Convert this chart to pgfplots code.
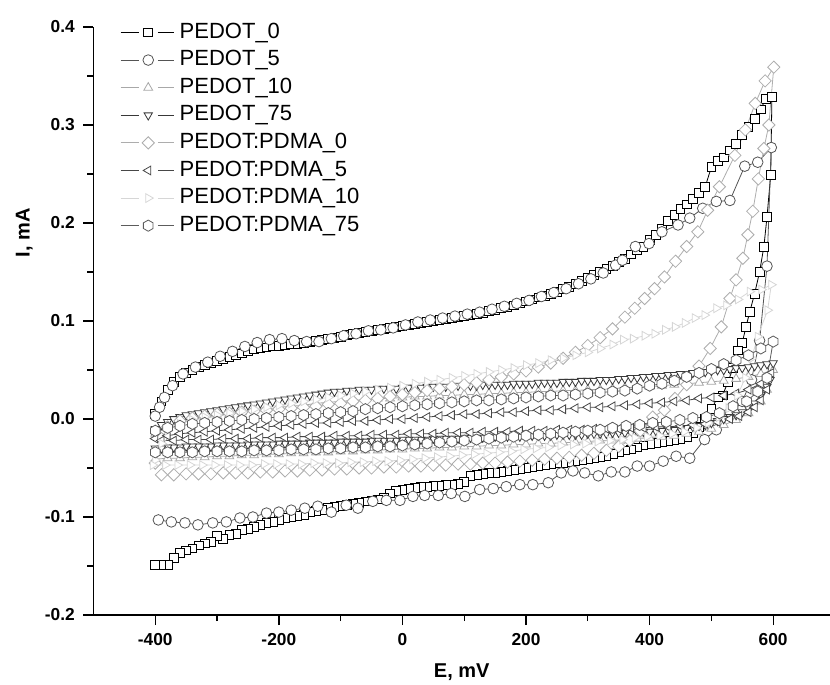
\documentclass[border=0pt]{standalone}
\usepackage{pgfplots}
\pgfplotsset{compat=1.18}
\usepackage{fontspec}
\setmainfont{Liberation Sans}
\definecolor{cA}{gray}{0.0}
\definecolor{cB}{gray}{0.33}
\definecolor{cC}{gray}{0.66}
\definecolor{cD}{gray}{0.22}
\definecolor{cE}{gray}{0.68}
\definecolor{cF}{gray}{0.28}
\definecolor{cG}{gray}{0.84}
\definecolor{cH}{gray}{0.36}
\pgfdeclareplotmark{hexagon*}{%
  \pgfpathmoveto{\pgfqpointpolar{90}{\pgfplotmarksize}}%
  \pgfpathlineto{\pgfqpointpolar{150}{\pgfplotmarksize}}%
  \pgfpathlineto{\pgfqpointpolar{210}{\pgfplotmarksize}}%
  \pgfpathlineto{\pgfqpointpolar{270}{\pgfplotmarksize}}%
  \pgfpathlineto{\pgfqpointpolar{330}{\pgfplotmarksize}}%
  \pgfpathlineto{\pgfqpointpolar{30}{\pgfplotmarksize}}%
  \pgfpathclose
  \pgfusepathqfillstroke}
\pgfdeclareplotmark{rdiamond*}{%
  \pgfpathmoveto{\pgfqpoint{0pt}{\pgfplotmarksize}}%
  \pgfpathlineto{\pgfqpoint{\pgfplotmarksize}{0pt}}%
  \pgfpathlineto{\pgfqpoint{0pt}{-\pgfplotmarksize}}%
  \pgfpathlineto{\pgfqpoint{-\pgfplotmarksize}{0pt}}%
  \pgfpathclose
  \pgfusepathqfillstroke}
\begin{document}
\begin{tikzpicture}
\begin{axis}[
  at={(0,0)}, anchor=south west,
  scale only axis, width=552.4pt, height=441pt,
  xmin=-500, xmax=692, ymin=-0.2, ymax=0.4,
  axis x line*=bottom, axis y line*=left,
  axis line style={-, line width=1pt},
  tick align=outside,
  major tick length=7.5pt, minor tick length=4.5pt,
  every tick/.style={black, line width=1pt},
  xtick={-400,-200,0,200,400,600},
  xticklabels={-400,-200,0,200,400,600},
  minor xtick={-300,-100,100,300,500},
  ytick={-0.2,-0.1,0,0.1,0.2,0.3,0.4},
  yticklabels={-0.2,-0.1,0.0,0.1,0.2,0.3,0.4},
  minor ytick={-0.15,-0.05,0.05,0.15,0.25,0.35},
  tick label style={font=\bfseries\fontsize{13}{13}\selectfont},
  xticklabel style={yshift=-3pt},
  yticklabel style={xshift=-3pt},
  xlabel={E, mV}, ylabel={I, mA},
  every axis x label/.style={at={(rel axis cs:0.5,-0.097)}, anchor=center, font=\bfseries\fontsize{15}{15}\selectfont},
  every axis y label/.style={at={(rel axis cs:-0.094,0.65)}, rotate=90, anchor=center, font=\bfseries\fontsize{15}{15}\selectfont},
  legend cell align=left,
  legend style={draw=none, fill=none, at={(0.036,1.011)}, anchor=north west, inner sep=0pt,
    font=\fontsize{16.5}{16.5}\selectfont, row sep=3.2pt,
    nodes={inner sep=1pt, text height=12pt, text depth=3.5pt},
    /tikz/every odd column/.append style={column sep=3pt}},
  legend image code/.code={%
    \draw[mark=none] (0pt,0pt) -- (13.5pt,0pt) (28pt,0pt) -- (40pt,0pt);
    \draw[only marks] plot coordinates {(20.7pt,0pt)};},
  every axis plot/.append style={line width=0.6pt},
]
% PEDOT_0
\addplot[color=cA, mark=square*, mark size=3.3pt, mark options={fill=white, solid}] coordinates {
(-400,0.005)(-390,0.018)(-380,0.030)(-370,0.038)(-360,0.043)(-350,0.047)(-340,0.050)(-330,0.053)(-320,0.055)(-310,0.057)(-300,0.059)(-290,0.061)(-280,0.063)(-270,0.065)(-260,0.067)(-250,0.069)(-240,0.071)(-230,0.072)(-220,0.073)(-210,0.074)(-200,0.075)(-190,0.076)(-180,0.077)(-170,0.077)(-160,0.078)(-150,0.079)(-140,0.080)(-130,0.081)(-120,0.082)(-110,0.083)(-100,0.084)(-90,0.086)(-80,0.087)(-70,0.088)(-60,0.089)(-50,0.090)(-40,0.091)(-30,0.092)(-20,0.093)(-10,0.094)(0,0.095)(10,0.096)(20,0.097)(30,0.098)(40,0.099)(50,0.100)(60,0.101)(70,0.102)(80,0.103)(90,0.104)(100,0.105)(110,0.106)(120,0.107)(130,0.108)(140,0.110)(150,0.111)(160,0.113)(170,0.114)(180,0.116)(190,0.118)(200,0.120)(210,0.122)(220,0.124)(230,0.126)(240,0.128)(250,0.130)(260,0.133)(270,0.135)(280,0.138)(290,0.141)(300,0.144)(310,0.147)(320,0.150)(330,0.153)(340,0.156)(350,0.160)(360,0.163)(370,0.168)(380,0.172)(390,0.176)(400,0.183)(410,0.188)(420,0.194)(430,0.202)(440,0.208)(450,0.214)(460,0.219)(470,0.225)(480,0.231)(490,0.237)(500,0.257)(510,0.263)(520,0.267)(530,0.274)(540,0.281)(550,0.290)(560,0.298)(570,0.306)(580,0.316)(588,0.327)(598,0.329)
(596,0.249)(590,0.206)(585,0.176)(578,0.150)(570,0.128)(562,0.109)(556,0.094)(550,0.078)(543,0.070)(535,0.052)(527,0.038)(518,0.024)(510,0.022)(500,0.010)(490,0.000)(480,-0.008)(470,-0.014)(460,-0.018)(450,-0.020)(440,-0.021)(430,-0.022)(420,-0.023)(410,-0.024)(400,-0.025)(390,-0.027)(380,-0.029)(370,-0.031)(360,-0.032)(350,-0.034)(340,-0.036)(330,-0.038)(320,-0.039)(310,-0.040)(300,-0.041)(290,-0.042)(280,-0.043)(270,-0.044)(260,-0.045)(250,-0.045)(240,-0.046)(230,-0.047)(220,-0.048)(210,-0.049)(200,-0.050)(190,-0.051)(180,-0.052)(170,-0.053)(160,-0.054)(150,-0.055)(140,-0.055)(130,-0.056)(120,-0.057)(110,-0.058)(100,-0.064)(90,-0.066)(80,-0.067)(70,-0.067)(60,-0.068)(50,-0.068)(40,-0.069)(30,-0.069)(20,-0.070)(10,-0.071)(0,-0.072)(-10,-0.073)(-20,-0.076)(-30,-0.080)(-40,-0.082)(-50,-0.083)(-60,-0.084)(-70,-0.086)(-80,-0.087)(-90,-0.088)(-100,-0.089)(-110,-0.090)(-120,-0.091)(-130,-0.093)(-140,-0.094)(-150,-0.095)(-160,-0.098)(-170,-0.099)(-180,-0.100)(-190,-0.101)(-200,-0.103)(-210,-0.105)(-220,-0.106)(-230,-0.108)(-240,-0.110)(-250,-0.112)(-260,-0.113)(-270,-0.117)(-280,-0.118)(-290,-0.122)(-300,-0.119)(-310,-0.125)(-320,-0.127)(-330,-0.129)(-340,-0.132)(-350,-0.134)(-360,-0.137)(-370,-0.142)(-380,-0.149)(-390,-0.149)(-400,-0.149)
};
\addlegendentry{PEDOT\_0}
% PEDOT_5
\addplot[color=cB, mark=*, mark size=4pt, mark options={fill=white, solid}] coordinates {
(-400,0.003)(-393,0.012)(-385,0.022)(-372,0.034)(-355,0.046)(-335,0.053)(-315,0.058)(-295,0.064)(-275,0.069)(-255,0.074)(-235,0.078)(-215,0.081)(-195,0.082)(-175,0.080)(-155,0.079)(-135,0.079)(-115,0.082)(-95,0.085)(-75,0.087)(-55,0.090)(-35,0.091)(-15,0.093)(5,0.096)(25,0.099)(45,0.101)(65,0.103)(85,0.105)(105,0.107)(125,0.109)(145,0.112)(165,0.115)(185,0.118)(205,0.121)(225,0.125)(245,0.129)(265,0.133)(285,0.138)(305,0.143)(325,0.149)(345,0.157)(356,0.162)(377,0.176)(399,0.179)(420,0.191)(446,0.198)(465,0.205)(486,0.215)(508,0.222)(530,0.223)(554,0.258)(575,0.262)(597,0.277)
(590,0.156)(578,0.080)(565,0.040)(550,0.018)(530,0.004)(508,-0.011)(489,-0.021)(465,-0.040)(443,-0.038)(422,-0.043)(400,-0.048)(380,-0.048)(360,-0.054)(338,-0.054)(317,-0.058)(295,-0.055)(276,-0.053)(257,-0.055)(236,-0.065)(211,-0.067)(190,-0.067)(168,-0.069)(147,-0.071)(125,-0.072)(101,-0.079)(79,-0.076)(58,-0.078)(36,-0.078)(17,-0.079)(-4,-0.083)(-26,-0.083)(-48,-0.084)(-72,-0.091)(-91,-0.088)(-115,-0.095)(-137,-0.089)(-158,-0.091)(-180,-0.093)(-200,-0.095)(-220,-0.096)(-242,-0.100)(-263,-0.101)(-285,-0.105)(-307,-0.106)(-331,-0.108)(-352,-0.106)(-374,-0.105)(-395,-0.103)
};
\addlegendentry{PEDOT\_5}
% PEDOT_10
\addplot[color=cC, mark=triangle*, mark size=3.8pt, mark options={fill=white, solid}] coordinates {
(-400,-0.015)(-380,-0.008)(-360,-0.004)(-340,-0.001)(-320,0.001)(-300,0.003)(-280,0.005)(-260,0.007)(-240,0.009)(-220,0.010)(-200,0.012)(-180,0.013)(-160,0.014)(-140,0.016)(-120,0.017)(-100,0.018)(-80,0.019)(-60,0.020)(-40,0.021)(-20,0.021)(0,0.022)(20,0.023)(40,0.023)(60,0.024)(80,0.024)(100,0.025)(120,0.025)(140,0.026)(160,0.026)(180,0.027)(200,0.027)(220,0.028)(240,0.028)(260,0.029)(280,0.029)(300,0.030)(320,0.030)(340,0.031)(360,0.032)(380,0.032)(400,0.033)(420,0.034)(440,0.035)(460,0.036)(480,0.037)(500,0.038)(520,0.039)(540,0.041)(560,0.043)(580,0.046)(600,0.050)
(590,0.030)(580,0.018)(560,0.006)(540,-0.001)(520,-0.006)(500,-0.010)(480,-0.013)(460,-0.015)(440,-0.017)(420,-0.018)(400,-0.019)(380,-0.020)(360,-0.021)(340,-0.022)(320,-0.022)(300,-0.023)(280,-0.024)(260,-0.024)(240,-0.025)(220,-0.025)(200,-0.026)(180,-0.026)(160,-0.027)(140,-0.027)(120,-0.028)(100,-0.028)(80,-0.029)(60,-0.029)(40,-0.030)(20,-0.030)(0,-0.031)(-20,-0.031)(-40,-0.032)(-60,-0.032)(-80,-0.033)(-100,-0.033)(-120,-0.034)(-140,-0.034)(-160,-0.035)(-180,-0.035)(-200,-0.036)(-220,-0.036)(-240,-0.037)(-260,-0.037)(-280,-0.038)(-300,-0.038)(-320,-0.039)(-340,-0.039)(-360,-0.040)(-380,-0.040)(-400,-0.041)
};
\addlegendentry{PEDOT\_10}
% PEDOT_75
\addplot[color=cD, mark=triangle*, mark size=3.6pt, mark options={fill=white, solid, rotate=180}] coordinates {
(-400,-0.010)(-390,-0.006)(-380,-0.003)(-370,0.000)(-360,0.002)(-350,0.004)(-340,0.005)(-330,0.006)(-320,0.007)(-310,0.008)(-300,0.009)(-290,0.010)(-280,0.011)(-270,0.012)(-260,0.013)(-250,0.014)(-240,0.015)(-230,0.016)(-220,0.017)(-210,0.018)(-200,0.019)(-190,0.020)(-180,0.021)(-170,0.022)(-160,0.023)(-150,0.024)(-140,0.025)(-130,0.026)(-120,0.027)(-110,0.028)(-100,0.028)(-90,0.029)(-80,0.029)(-70,0.030)(-60,0.030)(-50,0.030)(-40,0.031)(-30,0.031)(-20,0.031)(-10,0.031)(0,0.032)(10,0.032)(20,0.032)(30,0.032)(40,0.033)(50,0.033)(60,0.033)(70,0.033)(80,0.033)(90,0.034)(100,0.034)(110,0.034)(120,0.034)(130,0.035)(140,0.035)(150,0.035)(160,0.035)(170,0.035)(180,0.036)(190,0.036)(200,0.036)(210,0.036)(220,0.037)(230,0.037)(240,0.037)(250,0.037)(260,0.038)(270,0.038)(280,0.038)(290,0.039)(300,0.039)(310,0.039)(320,0.040)(330,0.040)(340,0.040)(350,0.041)(360,0.041)(370,0.042)(380,0.042)(390,0.043)(400,0.043)(410,0.044)(420,0.044)(430,0.045)(440,0.045)(450,0.046)(460,0.046)(470,0.047)(480,0.048)(490,0.048)(500,0.049)(510,0.050)(520,0.050)(530,0.051)(540,0.052)(550,0.052)(560,0.053)(570,0.054)(580,0.055)(590,0.056)(600,0.057)
(595,0.040)(590,0.033)(580,0.025)(570,0.016)(560,0.011)(550,0.007)(540,0.004)(530,0.002)(520,0.000)(510,-0.002)(500,-0.004)(490,-0.006)(480,-0.007)(470,-0.008)(460,-0.009)(450,-0.010)(440,-0.011)(430,-0.011)(420,-0.012)(410,-0.012)(400,-0.013)(390,-0.013)(380,-0.013)(370,-0.014)(360,-0.014)(350,-0.014)(340,-0.014)(330,-0.015)(320,-0.015)(310,-0.015)(300,-0.015)(290,-0.016)(280,-0.016)(270,-0.016)(260,-0.016)(250,-0.016)(240,-0.017)(230,-0.017)(220,-0.017)(210,-0.017)(200,-0.017)(190,-0.018)(180,-0.018)(170,-0.018)(160,-0.018)(150,-0.018)(140,-0.019)(130,-0.019)(120,-0.019)(110,-0.019)(100,-0.019)(90,-0.020)(80,-0.020)(70,-0.020)(60,-0.020)(50,-0.020)(40,-0.021)(30,-0.021)(20,-0.021)(10,-0.021)(0,-0.021)(-10,-0.022)(-20,-0.022)(-30,-0.022)(-40,-0.022)(-50,-0.022)(-60,-0.023)(-70,-0.023)(-80,-0.023)(-90,-0.023)(-100,-0.023)(-110,-0.024)(-120,-0.024)(-130,-0.024)(-140,-0.024)(-150,-0.024)(-160,-0.025)(-170,-0.025)(-180,-0.025)(-190,-0.025)(-200,-0.025)(-210,-0.026)(-220,-0.026)(-230,-0.026)(-240,-0.026)(-250,-0.026)(-260,-0.027)(-270,-0.027)(-280,-0.027)(-290,-0.027)(-300,-0.027)(-310,-0.028)(-320,-0.028)(-330,-0.028)(-340,-0.028)(-350,-0.028)(-360,-0.029)(-370,-0.029)(-380,-0.029)(-390,-0.030)(-400,-0.030)
};
\addlegendentry{PEDOT\_75}
% PEDOT:PDMA_0
\addplot[color=cE, mark=rdiamond*, mark size=4.6pt, mark options={fill=white, solid}] coordinates {
(-400,-0.045)(-390,-0.020)(-380,-0.008)(-360,-0.002)(-340,0.001)(-320,0.003)(-300,0.005)(-280,0.006)(-260,0.007)(-240,0.008)(-220,0.009)(-200,0.010)(-180,0.011)(-160,0.012)(-140,0.013)(-120,0.015)(-100,0.016)(-80,0.018)(-60,0.019)(-40,0.021)(-20,0.023)(0,0.025)(20,0.027)(40,0.029)(60,0.031)(80,0.033)(100,0.035)(120,0.037)(140,0.040)(160,0.043)(180,0.046)(200,0.049)(220,0.053)(240,0.057)(260,0.062)(280,0.068)(300,0.075)(320,0.083)(340,0.092)(360,0.104)(376,0.113)(392,0.123)(408,0.133)(424,0.145)(442,0.161)(460,0.176)(478,0.191)(494,0.213)(513,0.237)(538,0.269)(555,0.295)(571,0.322)(587,0.345)(601,0.359)
(593,0.300)(585,0.276)(576,0.245)(567,0.212)(559,0.188)(551,0.164)(540,0.142)(530,0.123)(516,0.094)(498,0.072)(480,0.054)(460,0.035)(441,0.021)(424,0.009)(405,0.002)(385,-0.012)(368,-0.022)(350,-0.028)(330,-0.032)(310,-0.035)(290,-0.037)(270,-0.039)(250,-0.040)(230,-0.041)(210,-0.042)(190,-0.043)(170,-0.044)(150,-0.045)(130,-0.045)(110,-0.046)(90,-0.046)(70,-0.047)(50,-0.047)(30,-0.048)(10,-0.048)(-10,-0.049)(-30,-0.049)(-50,-0.050)(-70,-0.050)(-90,-0.051)(-110,-0.051)(-130,-0.052)(-150,-0.052)(-170,-0.053)(-190,-0.053)(-210,-0.054)(-230,-0.054)(-250,-0.055)(-270,-0.055)(-290,-0.055)(-310,-0.056)(-330,-0.056)(-350,-0.056)(-370,-0.057)(-390,-0.057)
};
\addlegendentry{PEDOT:PDMA\_0}
% PEDOT:PDMA_5
\addplot[color=cF, mark=triangle*, mark size=3.8pt, mark options={fill=white, solid, rotate=90}] coordinates {
(-400,-0.020)(-380,-0.017)(-360,-0.015)(-340,-0.014)(-320,-0.013)(-300,-0.012)(-280,-0.011)(-260,-0.010)(-240,-0.009)(-220,-0.008)(-200,-0.007)(-180,-0.006)(-160,-0.005)(-140,-0.004)(-120,-0.004)(-100,-0.003)(-80,-0.002)(-60,-0.002)(-40,-0.001)(-20,0.000)(0,0.000)(20,0.001)(40,0.002)(60,0.003)(80,0.004)(100,0.005)(120,0.005)(140,0.006)(160,0.007)(180,0.007)(200,0.008)(220,0.009)(240,0.009)(260,0.010)(280,0.011)(300,0.012)(320,0.012)(340,0.013)(360,0.014)(380,0.015)(400,0.016)(420,0.017)(440,0.018)(460,0.019)(480,0.021)(500,0.022)(520,0.024)(540,0.026)(560,0.030)(580,0.036)(597,0.047)
(590,0.030)(580,0.019)(570,0.012)(560,0.007)(545,0.003)(530,0.000)(510,-0.003)(490,-0.005)(470,-0.006)(450,-0.007)(430,-0.008)(410,-0.008)(390,-0.009)(370,-0.009)(350,-0.010)(330,-0.010)(310,-0.010)(290,-0.011)(270,-0.011)(250,-0.011)(230,-0.012)(210,-0.012)(190,-0.012)(170,-0.013)(150,-0.013)(130,-0.013)(110,-0.014)(90,-0.014)(70,-0.014)(50,-0.015)(30,-0.015)(10,-0.015)(-10,-0.016)(-30,-0.016)(-50,-0.016)(-70,-0.017)(-90,-0.017)(-110,-0.017)(-130,-0.018)(-150,-0.018)(-170,-0.018)(-190,-0.019)(-210,-0.019)(-230,-0.019)(-250,-0.020)(-270,-0.020)(-290,-0.020)(-310,-0.021)(-330,-0.021)(-350,-0.021)(-370,-0.022)(-390,-0.022)
};
\addlegendentry{PEDOT:PDMA\_5}
% PEDOT:PDMA_10
\addplot[color=cG, mark=triangle*, mark size=3.8pt, mark options={fill=white, solid, rotate=-90}] coordinates {
(-400,-0.042)(-390,-0.025)(-380,-0.012)(-360,-0.005)(-340,-0.001)(-320,0.002)(-300,0.004)(-280,0.006)(-260,0.008)(-240,0.010)(-220,0.012)(-200,0.014)(-180,0.016)(-160,0.018)(-140,0.020)(-120,0.022)(-100,0.024)(-80,0.026)(-60,0.028)(-40,0.030)(-20,0.032)(0,0.034)(20,0.036)(40,0.038)(60,0.040)(80,0.042)(100,0.044)(120,0.046)(140,0.048)(160,0.050)(180,0.052)(200,0.055)(220,0.057)(240,0.060)(260,0.062)(280,0.065)(300,0.068)(320,0.072)(340,0.076)(357,0.081)(373,0.082)(392,0.085)(408,0.087)(425,0.091)(441,0.094)(457,0.098)(473,0.103)(489,0.106)(508,0.113)(524,0.116)(543,0.122)(562,0.130)(581,0.132)(597,0.137)
(591,0.111)(575,0.084)(565,0.062)(555,0.042)(542,0.024)(528,0.011)(512,0.002)(495,-0.004)(476,-0.009)(456,-0.013)(436,-0.015)(416,-0.017)(396,-0.018)(376,-0.019)(356,-0.021)(336,-0.022)(316,-0.023)(296,-0.025)(276,-0.026)(256,-0.027)(236,-0.029)(216,-0.030)(196,-0.031)(176,-0.033)(156,-0.034)(136,-0.035)(116,-0.036)(96,-0.037)(76,-0.038)(56,-0.039)(36,-0.040)(16,-0.041)(-4,-0.042)(-24,-0.043)(-44,-0.043)(-64,-0.044)(-84,-0.044)(-104,-0.045)(-124,-0.045)(-144,-0.045)(-164,-0.046)(-184,-0.046)(-204,-0.046)(-224,-0.046)(-244,-0.047)(-264,-0.047)(-284,-0.047)(-304,-0.047)(-324,-0.047)(-344,-0.047)(-364,-0.047)(-384,-0.047)(-404,-0.047)
};
\addlegendentry{PEDOT:PDMA\_10}
% PEDOT:PDMA_75
\addplot[color=cH, mark=hexagon*, mark size=4.2pt, mark options={fill=white, solid}] coordinates {
(-400,-0.012)(-380,-0.009)(-360,-0.007)(-340,-0.005)(-320,-0.004)(-300,-0.003)(-280,-0.002)(-260,-0.001)(-240,0.000)(-220,0.001)(-200,0.002)(-180,0.003)(-160,0.004)(-140,0.005)(-120,0.006)(-100,0.007)(-80,0.008)(-60,0.010)(-40,0.011)(-20,0.012)(0,0.013)(20,0.014)(40,0.015)(60,0.016)(80,0.017)(100,0.018)(120,0.019)(140,0.019)(160,0.020)(180,0.021)(200,0.022)(220,0.023)(240,0.024)(260,0.024)(280,0.025)(300,0.026)(320,0.027)(340,0.028)(360,0.029)(380,0.031)(400,0.034)(420,0.036)(440,0.039)(460,0.043)(480,0.047)(500,0.051)(520,0.056)(540,0.060)(560,0.065)(580,0.072)(600,0.079)
(590,0.042)(575,0.028)(557,0.018)(535,0.013)(513,0.006)(492,0.002)(470,0.001)(449,-0.001)(427,-0.003)(405,-0.004)(384,-0.006)(362,-0.007)(340,-0.009)(320,-0.011)(300,-0.012)(280,-0.013)(260,-0.014)(240,-0.015)(220,-0.016)(200,-0.017)(180,-0.018)(160,-0.019)(140,-0.020)(120,-0.021)(100,-0.022)(80,-0.023)(60,-0.024)(40,-0.025)(20,-0.026)(0,-0.027)(-20,-0.028)(-40,-0.028)(-60,-0.029)(-80,-0.029)(-100,-0.030)(-120,-0.030)(-140,-0.031)(-160,-0.031)(-180,-0.031)(-200,-0.032)(-220,-0.032)(-240,-0.032)(-260,-0.033)(-280,-0.033)(-300,-0.033)(-320,-0.033)(-340,-0.034)(-360,-0.034)(-380,-0.034)(-400,-0.034)
};
\addlegendentry{PEDOT:PDMA\_75}
\end{axis}
\pgfresetboundingbox
\path (-70.1pt,-51.75pt) rectangle (552.4pt,461.25pt);
\end{tikzpicture}
\end{document}
